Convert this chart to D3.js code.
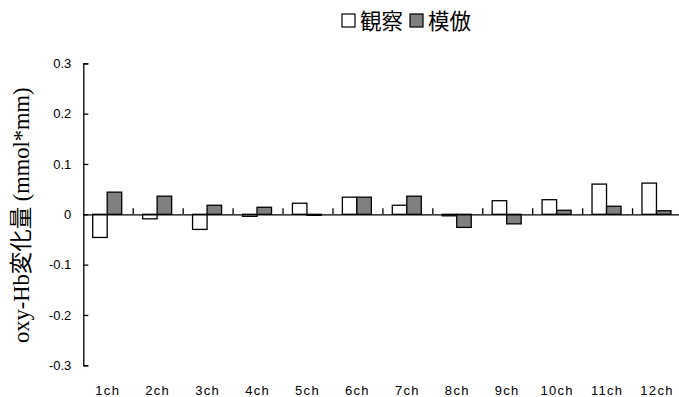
<!DOCTYPE html>
<html>
<head>
<meta charset="utf-8">
<script src="https://cdn.jsdelivr.net/npm/d3@7"></script>
<style>
  html, body { margin: 0; padding: 0; background: #fff; }
  svg { display: block; }
</style>
</head>
<body>
<svg id="chart" width="679" height="397"></svg>
<script>
// Channels along the x axis
const channels = ["1ch", "2ch", "3ch", "4ch", "5ch", "6ch", "7ch", "8ch", "9ch", "10ch", "11ch", "12ch"];
// Series: observation (観察) and imitation (模倣)
const seriesNames = ["観察", "模倣"];
const observe = [-0.046, -0.009, -0.030, -0.004, 0.022, 0.034, 0.018, -0.003, 0.027, 0.029, 0.060, 0.062];
const imitate = [0.044, 0.036, 0.018, 0.014, -0.002, 0.034, 0.036, -0.026, -0.019, 0.008, 0.016, 0.007];
const yTicks = [-0.3, -0.2, -0.1, 0, 0.1, 0.2, 0.3];
const yTickLabels = ["-0.3", "-0.2", "-0.1", "0", "0.1", "0.2", "0.3"];
const seriesFill = ["#ffffff", "#808080"];

const svg = d3.select("#chart");
const plotLeft = 83.3, plotRight = 682.5, plotTop = 63.3, plotBottom = 365.3;

const x = d3.scaleBand().domain(channels).range([plotLeft, plotRight]).padding(0);
const y = d3.scaleLinear().domain([-0.3, 0.3]).range([plotBottom, plotTop]);
const xSub = d3.scaleBand().domain(seriesNames).range([0, 29]);
const barOffset = 9.4;

const sans = "'Liberation Sans', Arial, 'Noto Sans CJK JP', sans-serif";

// Bars
const rows = channels.map((c, i) => ({ c, vals: [observe[i], imitate[i]] }));
const groups = svg.append("g").selectAll("g").data(rows).join("g")
  .attr("transform", d => `translate(${x(d.c) + barOffset},0)`);
groups.selectAll("rect")
  .data(d => d.vals.map((v, k) => ({ v, k })))
  .join("rect")
  .attr("x", d => xSub(seriesNames[d.k]))
  .attr("width", xSub.bandwidth())
  .attr("y", d => y(Math.max(0, d.v)))
  .attr("height", d => Math.max(0.6, Math.abs(y(d.v) - y(0))))
  .attr("fill", d => seriesFill[d.k])
  .attr("stroke", "#000")
  .attr("stroke-width", 1.3);

// Y axis with inward ticks
const yAxis = d3.axisLeft(y).tickValues(yTicks).tickSize(-5).tickPadding(12)
  .tickFormat((d, i) => yTickLabels[i]);
const gy = svg.append("g").attr("transform", `translate(${plotLeft},0)`).call(yAxis);
gy.select(".domain").attr("stroke", "#000").attr("stroke-width", 1.3);
gy.selectAll(".tick line").attr("stroke", "#000").attr("stroke-width", 1.3);
gy.selectAll(".tick text").attr("font-family", sans).attr("font-size", 13).attr("fill", "#000");

// Zero line with upward category separators
const xAxis = d3.axisBottom(x).tickSize(0).tickFormat("");
const gx = svg.append("g").attr("transform", `translate(0,${y(0)})`).call(xAxis);
gx.select(".domain").attr("stroke", "#000").attr("stroke-width", 1.3);
gx.selectAll(".tick").remove();
svg.append("g").selectAll("line").data(channels.slice(1)).join("line")
  .attr("x1", d => x(d)).attr("x2", d => x(d))
  .attr("y1", y(0)).attr("y2", y(0) - 6)
  .attr("stroke", "#000").attr("stroke-width", 1.3);

// Channel labels along the bottom
svg.append("g").selectAll("text").data(channels).join("text")
  .attr("x", d => x(d) + x.bandwidth() / 2 - 0.5)
  .attr("y", 395)
  .attr("text-anchor", "middle")
  .attr("font-family", sans)
  .attr("font-size", 13)
  .attr("letter-spacing", 1.3)
  .text(d => d);

// Y axis title
svg.append("text")
  .attr("transform", `translate(29,${(plotTop + plotBottom) / 2 + 1}) rotate(-90)`)
  .attr("text-anchor", "middle")
  .attr("font-family", "'Liberation Serif', 'Times New Roman', 'Noto Sans CJK JP', serif")
  .attr("font-size", 22.5)
  .text("oxy-Hb変化量 (mmol*mm)");

// Legend
const legend = svg.append("g").attr("transform", "translate(342,0)");
let lx = 0;
seriesNames.forEach((name, k) => {
  legend.append("rect")
    .attr("x", lx).attr("y", 14).attr("width", 13).attr("height", 13)
    .attr("fill", seriesFill[k]).attr("stroke", "#000").attr("stroke-width", 1.2);
  const t = legend.append("text")
    .attr("x", lx + 18).attr("y", 29)
    .attr("font-family", "'Noto Sans CJK JP', sans-serif")
    .attr("font-size", 21.5)
    .text(name);
  lx += 18 + t.node().getComputedTextLength() + 7;
});
</script>
</body>
</html>
